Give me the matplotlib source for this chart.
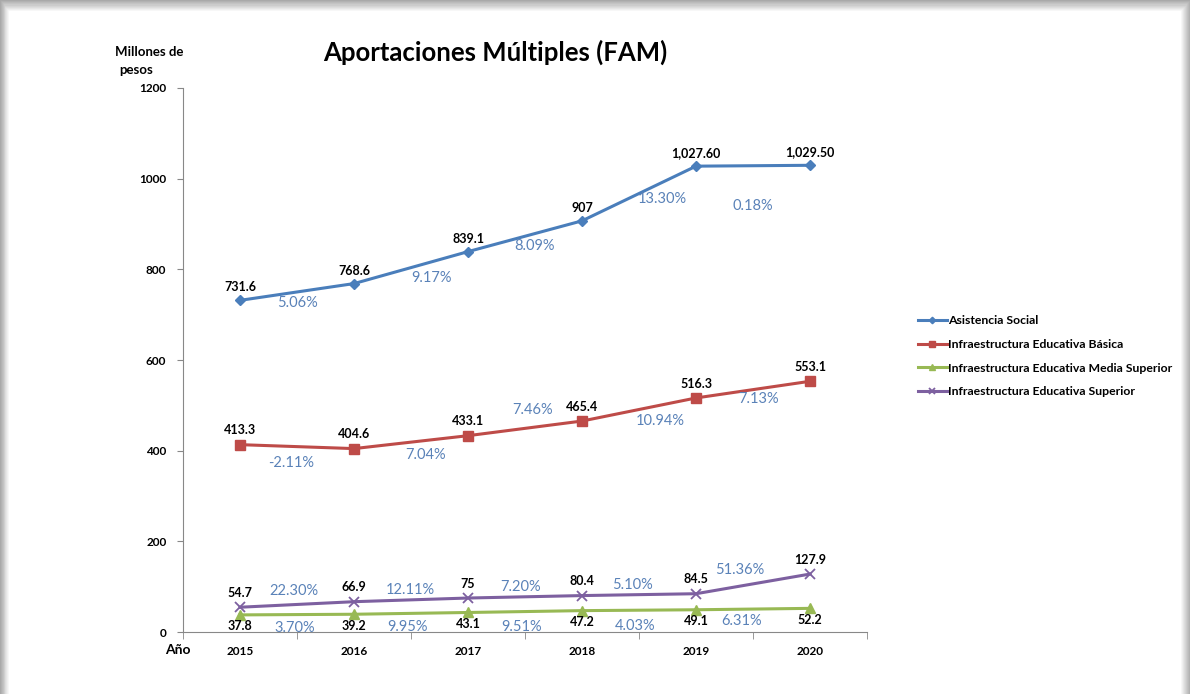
import matplotlib.pyplot as plt
from matplotlib.patches import Rectangle
import numpy as np

plt.rcParams['font.family'] = ['Lato', 'DejaVu Sans']

years = ['2015', '2016', '2017', '2018', '2019', '2020']
asistencia = [731.6, 768.6, 839.1, 907, 1027.6, 1029.5]
basica = [413.3, 404.6, 433.1, 465.4, 516.3, 553.1]
media_sup = [37.8, 39.2, 43.1, 47.2, 49.1, 52.2]
superior = [54.7, 66.9, 75, 80.4, 84.5, 127.9]

asistencia_lbl = ['731.6', '768.6', '839.1', '907', '1,027.60', '1,029.50']
basica_lbl = ['413.3', '404.6', '433.1', '465.4', '516.3', '553.1']
media_lbl = ['37.8', '39.2', '43.1', '47.2', '49.1', '52.2']
superior_lbl = ['54.7', '66.9', '75', '80.4', '84.5', '127.9']

# growth rates, with the spot where each label sits (x in category units, y in data units)
asis_pct = ['5.06%', '9.17%', '8.09%', '13.30%', '0.18%']
asis_pct_x = [0.5, 1.68, 2.58, 3.70, 4.5]
asis_pct_y = [726, 781, 851, 955, 940]
bas_pct = ['-2.11%', '7.04%', '7.46%', '10.94%', '7.13%']
bas_pct_x = [0.45, 1.63, 2.57, 3.69, 4.55]
bas_pct_y = [373, 390, 490, 465, 514]
sup_pct = ['22.30%', '12.11%', '7.20%', '5.10%', '51.36%']
sup_pct_x = [0.47, 1.49, 2.46, 3.44, 4.38]
sup_pct_y = [90, 93, 99, 104, 137]
med_pct = ['3.70%', '9.95%', '9.51%', '4.03%', '6.31%']
med_pct_x = [0.48, 1.47, 2.47, 3.47, 4.4]
med_pct_y = [9, 11, 11, 13, 24]

c_blue = '#4a7ebb'
c_red = '#be4b48'
c_green = '#98b954'
c_purple = '#7d60a0'
c_pct = '#5a82b8'

fig = plt.figure(figsize=(11.9, 6.94), dpi=100)

# shadowed frame around the chart
bg = fig.add_axes([0, 0, 1, 1], zorder=-10)
bg.set_xlim(0, 1190)
bg.set_ylim(694, 0)
bg.axis('off')
bg.add_patch(Rectangle((0, 0), 1190, 694, color='#a8a8a8'))
for i in range(10):
    g = 0.66 + 0.034 * i
    bg.add_patch(Rectangle((i * 0.9, i * 1.1), 1190 - i * 1.9, 694, color=(g, g, g)))
bg.add_patch(Rectangle((9, 11), 1171, 690, color='white'))

ax = fig.add_axes([0.1538, 0.0893, 0.5748, 0.7839])
x = np.arange(len(years))

ax.plot(x, asistencia, color=c_blue, lw=2.2, marker='D', ms=5.5, label='Asistencia Social')
ax.plot(x, basica, color=c_red, lw=2.2, marker='s', ms=6.5, label='Infraestructura Educativa Básica')
ax.plot(x, media_sup, color=c_green, lw=2.2, marker='^', ms=6.5, label='Infraestructura Educativa Media Superior')
ax.plot(x, superior, color=c_purple, lw=2.2, marker='x', ms=7.5, mew=1.3, label='Infraestructura Educativa Superior')

for xi, v, t in zip(x, asistencia, asistencia_lbl):
    ax.annotate(t, (xi, v), xytext=(0, 5), textcoords='offset points', ha='center', va='bottom', fontsize=9, fontweight='bold')
for xi, v, t in zip(x, basica, basica_lbl):
    ax.annotate(t, (xi, v), xytext=(0, 6), textcoords='offset points', ha='center', va='bottom', fontsize=9, fontweight='bold')
for xi, v, t in zip(x, superior, superior_lbl):
    ax.annotate(t, (xi, v), xytext=(0, 6), textcoords='offset points', ha='center', va='bottom', fontsize=9, fontweight='bold')
for xi, v, t in zip(x, media_sup, media_lbl):
    ax.annotate(t, (xi, v), xytext=(0, -4), textcoords='offset points', ha='center', va='top', fontsize=9, fontweight='bold')

for lbls, xs, ys in [(asis_pct, asis_pct_x, asis_pct_y), (bas_pct, bas_pct_x, bas_pct_y),
                     (sup_pct, sup_pct_x, sup_pct_y), (med_pct, med_pct_x, med_pct_y)]:
    for t, xi, yi in zip(lbls, xs, ys):
        ax.text(xi, yi, t, color=c_pct, fontsize=10.5, ha='center', va='center')

ax.set_xlim(-0.5, 5.5)
ax.set_ylim(0, 1200)
ax.set_yticks(range(0, 1201, 200))
ax.set_yticklabels([str(v) for v in range(0, 1201, 200)], fontsize=8.5, fontweight='bold')
ax.set_xticks(x)
ax.set_xticklabels(years, fontsize=8.5, fontweight='bold')
ax.set_xticks(np.arange(-0.5, 5.6, 1), minor=True)
ax.tick_params(axis='x', which='major', length=0, pad=10)
ax.tick_params(axis='x', which='minor', length=5, color='#888888', direction='out')
ax.tick_params(axis='y', length=4, color='#888888', pad=8)
for s in ['top', 'right']:
    ax.spines[s].set_visible(False)
for s in ['left', 'bottom']:
    ax.spines[s].set_color('#888888')
ax.set_facecolor('none')

fig.text(0.416, 0.925, 'Aportaciones Múltiples (FAM)', fontsize=18.5, fontweight='bold', ha='center', va='center')
fig.text(0.097, 0.925, 'Millones de', fontsize=9.5, fontweight='bold', ha='left', va='center')
fig.text(0.1, 0.899, 'pesos', fontsize=9.5, fontweight='bold', ha='left', va='center')
fig.text(0.139, 0.063, 'Año', fontsize=10, fontweight='bold', ha='left', va='center')

handles, labels = ax.get_legend_handles_labels()
leg = fig.legend(handles, labels, loc='upper left', bbox_to_anchor=(0.762, 0.562), frameon=False,
                 fontsize=8.8, handlelength=2.4, handletextpad=0.1, labelspacing=1.05, markerscale=0.6)
for t in leg.get_texts():
    t.set_fontweight('bold')

fig.savefig('out.png', dpi=100)
